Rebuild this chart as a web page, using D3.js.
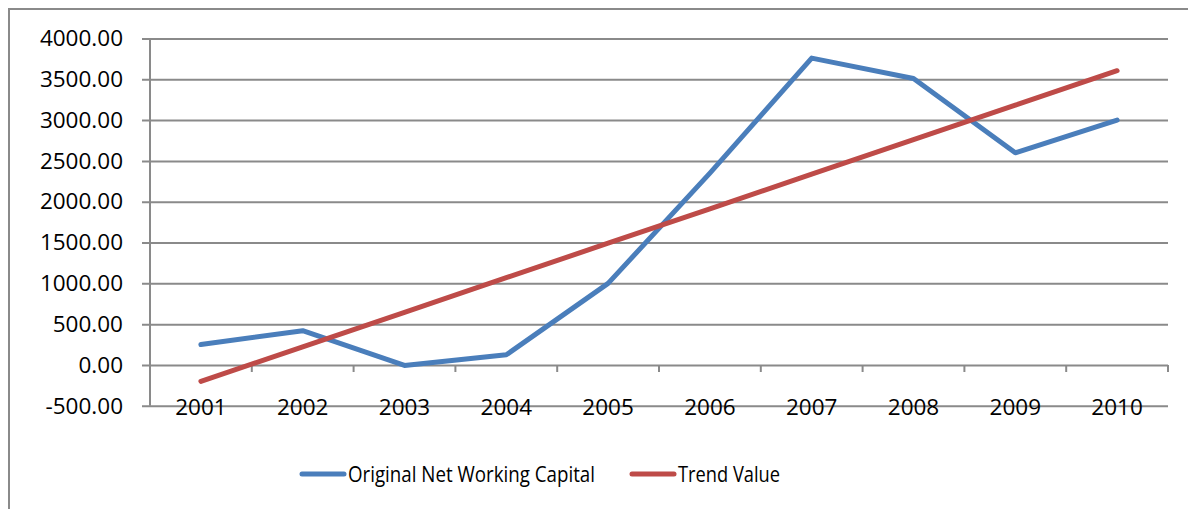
<!DOCTYPE html>
<html>
<head>
<meta charset="utf-8">
<script src="https://cdn.jsdelivr.net/npm/d3@7/dist/d3.min.js"></script>
<style>
  body { margin: 0; background: #fff; }
  svg text { font-family: "Open Sans", "Noto Sans", sans-serif; fill: #000; }
</style>
</head>
<body>
<div id="svgDiv"><svg></svg></div>
<script>
var years = ["2001", "2002", "2003", "2004", "2005", "2006", "2007", "2008", "2009", "2010"];
var netWorkingCapital = [250, 420, -5, 125, 1000, 2350, 3760, 3510, 2600, 3000];
var trendValue = [-200, 223, 646, 1069, 1492, 1914, 2337, 2760, 3183, 3605];
var yTicks = [-500, 0, 500, 1000, 1500, 2000, 2500, 3000, 3500, 4000];
var seriesNames = ["Original Net Working Capital", "Trend Value"];
var seriesColors = ["#4a7ebb", "#be4b48"];

var width = 1188;
var height = 509;
var svg = d3.select("#svgDiv svg").attr("width", width).attr("height", height);
var gridColor = "#8a8a8a";

// outer chart frame (runs off the right and bottom edges)
svg.append("rect")
    .attr("x", 9).attr("y", 9)
    .attr("width", 1200).attr("height", 520)
    .attr("fill", "none")
    .attr("stroke", gridColor)
    .attr("stroke-width", 2);

var plot = { left: 150, right: 1168, top: 38.5, bottom: 405.8 };

var x = d3.scaleBand().domain(years).range([plot.left, plot.right]);
var y = d3.scaleLinear().domain([-500, 4000]).range([plot.bottom, plot.top]);

// gridlines + y labels
var yAxis = d3.axisLeft(y)
    .tickValues(yTicks)
    .tickSize(-(plot.right - plot.left))
    .tickPadding(27)
    .tickFormat(function(d) { return d.toFixed(2); });

var gy = svg.append("g")
    .attr("transform", "translate(" + plot.left + ",0)")
    .call(yAxis);
gy.select(".domain").remove();
gy.selectAll(".tick line")
    .attr("x1", -8)
    .attr("stroke", gridColor)
    .attr("stroke-width", 2);
gy.selectAll(".tick text").style("font-size", "22.5px");

// vertical axis line
svg.append("line")
    .attr("x1", plot.left).attr("x2", plot.left)
    .attr("y1", plot.top).attr("y2", plot.bottom)
    .attr("stroke", gridColor).attr("stroke-width", 2);

// category tick marks hang from the zero line
var boundaries = years.map(function(d) { return x(d) + x.bandwidth(); });
svg.append("g").selectAll("line")
    .data(boundaries)
    .enter().append("line")
    .attr("x1", function(d) { return d; })
    .attr("x2", function(d) { return d; })
    .attr("y1", y(0))
    .attr("y2", y(0) + 7)
    .attr("stroke", gridColor).attr("stroke-width", 2);

// category labels at the bottom
svg.append("g").selectAll("text")
    .data(years)
    .enter().append("text")
    .attr("x", function(d) { return x(d) + x.bandwidth() / 2; })
    .attr("y", plot.bottom + 9)
    .attr("text-anchor", "middle")
    .style("font-size", "22.5px")
    .text(function(d) { return d; });

// series lines
var line = d3.line()
    .x(function(d, i) { return x(years[i]) + x.bandwidth() / 2; })
    .y(function(d) { return y(d); });

[netWorkingCapital, trendValue].forEach(function(values, i) {
    svg.append("path")
        .datum(values)
        .attr("d", line)
        .attr("fill", "none")
        .attr("stroke", seriesColors[i])
        .attr("stroke-width", 5)
        .attr("stroke-linecap", "round")
        .attr("stroke-linejoin", "round");
});

// legend
var legendPos = [302, 632];
var legendTextLen = [247, 102];
var legend = svg.append("g").selectAll("g")
    .data(seriesNames)
    .enter().append("g")
    .attr("transform", function(d, i) { return "translate(" + legendPos[i] + ",474)"; });

legend.append("line")
    .attr("x1", 0).attr("x2", 42)
    .attr("stroke", function(d, i) { return seriesColors[i]; })
    .attr("stroke-width", 5)
    .attr("stroke-linecap", "round");

legend.append("text")
    .attr("x", 46)
    .attr("dy", "0.35em")
    .attr("textLength", function(d, i) { return legendTextLen[i]; })
    .attr("lengthAdjust", "spacingAndGlyphs")
    .style("font-size", "22.5px")
    .text(function(d) { return d; });
</script>
</body>
</html>
